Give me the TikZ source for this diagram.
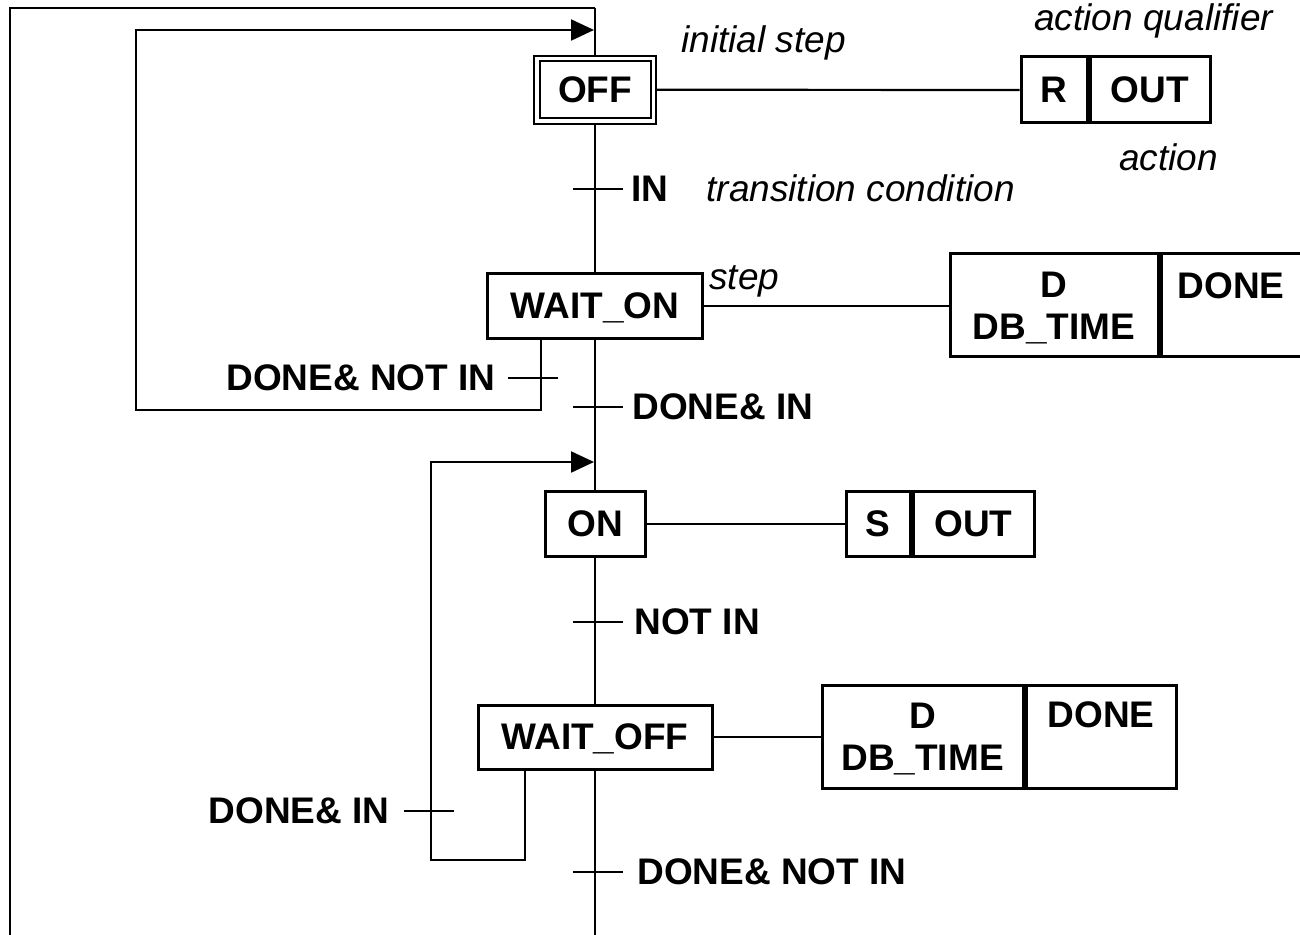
\documentclass[tikz,border=0pt]{standalone}
\usepackage{fontspec}
\setmainfont{Liberation Sans}
\usetikzlibrary{arrows.meta,calc}
\begin{document}
\begin{tikzpicture}[x=0.5pt,y=-0.5pt,
  every node/.style={inner sep=0pt, font=\fontsize{18.5}{21}\selectfont\bfseries},
  stepbox/.style={draw, line width=1.5pt, text depth=0pt, minimum height=32.5pt},
  initstep/.style={draw, double, line width=1pt, double distance=1.75pt,
    outer sep=1.375pt, text depth=0pt},
  cell/.style={draw, line width=1.5pt, text depth=0pt, align=center},
  wire/.style={line width=1.1pt},
  tip/.style={-{Triangle[length=11.5pt,width=10.5pt]}},
  cond/.style={text depth=0pt},
  note/.style={font=\fontsize{18.5}{21}\selectfont\itshape}]
\useasboundingbox (0,0) rectangle (1300,935);

% steps of the sequence
\node[initstep, minimum width=58.25pt, minimum height=31.25pt] (off) at (595,89.75) {OFF};
\node[stepbox, minimum width=107.5pt] (waiton) at (595,306) {WAIT\_ON};
\node[stepbox, minimum width=50pt] (on) at (595,524) {ON};
\node[stepbox, minimum width=117pt, minimum height=32pt] (waitoff) at (595,737) {WAIT\_OFF};

% action blocks: qualifier | action
\node[cell, minimum width=33pt, minimum height=33pt] (qR) at (1054,90) {R};
\node[cell, minimum width=60pt, minimum height=33pt, anchor=west] (aOut1) at (qR.east) {OUT};
\node[cell, minimum width=104pt, minimum height=51.5pt] (qD1) at (1054,305.5) {D\\DB\_TIME};
\node[cell, minimum width=70pt, minimum height=51.5pt, anchor=west] (aDone1) at (qD1.east) {};
\node[cond] (done1) at ($(aDone1.north)+(0,33)$) {DONE};
\node[cell, minimum width=32pt, minimum height=32.5pt] (qS) at (878,524) {S};
\node[cell, minimum width=60.5pt, minimum height=32.5pt, anchor=west] (aOut2) at (qS.east) {OUT};
\node[cell, minimum width=100.5pt, minimum height=51.5pt] (qD2) at (922.5,737) {D\\DB\_TIME};
\node[cell, minimum width=75pt, minimum height=51.5pt, anchor=west] (aDone2) at (qD2.east) {};
\node[cond] (done2) at ($(aDone2.north)+(0,31)$) {DONE};

% step-to-action links
\draw[wire] (off.east) -- (qR.west);
\draw[wire] (waiton.east) -- (qD1.west |- waiton.east);
\draw[wire] (on.east) -- (qS.west);
\draw[wire] (waitoff.east) -- (qD2.west |- waitoff.east);

% main sequence line
\coordinate (top) at (595,8);
\coordinate (bottom) at (595,935);
\draw[wire] (top) -- (off.north);
\draw[wire] (off.south) -- (waiton.north);
\draw[wire] (waiton.south) -- (on.north);
\draw[wire] (on.south) -- (waitoff.north);
\draw[wire] (waitoff.south) -- (bottom);

% outer return to the initial step
\coordinate (loopstart) at (10,935);
\draw[wire] (loopstart) |- (top);

% return WAIT_ON -> OFF
\coordinate (br1) at ($(waiton.south)+(-54,0)$);
\coordinate (ret1) at (594,30);
\draw[wire, tip] (br1) -- (541,410) -| (136,30) -- (ret1);

% return WAIT_OFF -> ON
\coordinate (br2) at ($(waitoff.south)+(-70,0)$);
\coordinate (ret2) at (594,462);
\draw[wire, tip] (br2) -- (525,860) -| (431,462) -- (ret2);

% transitions on the main line
\foreach \n/\y in {t1/189, t2/407, t3/622, t4/872}{
  \coordinate (\n) at (595,\y);
  \draw[wire] ($(\n)+(-22,0)$) -- ($(\n)+(28,0)$);
}
\node[cond, anchor=west] (c1) at (631,189) {IN};
\node[cond, anchor=west] (c2) at (632,407) {DONE\& IN};
\node[cond, anchor=west] (c3) at (634,622) {NOT IN};
\node[cond, anchor=west] (c4) at (637,872) {DONE\& NOT IN};

% transitions on the return branches
\coordinate (t5) at (541,378);
\draw[wire] ($(t5)+(-33,0)$) -- ($(t5)+(17,0)$);
\node[cond, anchor=east] (c5) at (496,378) {DONE\& NOT IN};
\coordinate (t6) at (431,811);
\draw[wire] ($(t6)+(-27,0)$) -- ($(t6)+(23,0)$);
\node[cond, anchor=east] (c6) at (390,811) {DONE\& IN};

% annotations
\node[note, anchor=base west] (n1) at (681,53) {initial step};
\node[note, anchor=base west] (n2) at (1034,31) {action qualifier};
\node[note, anchor=base west] (n3) at (1119,171) {action};
\node[note, anchor=base west] (n4) at (706,202) {transition condition};
\node[note, anchor=base west] (n5) at (709,290) {step};
\end{tikzpicture}
\end{document}
